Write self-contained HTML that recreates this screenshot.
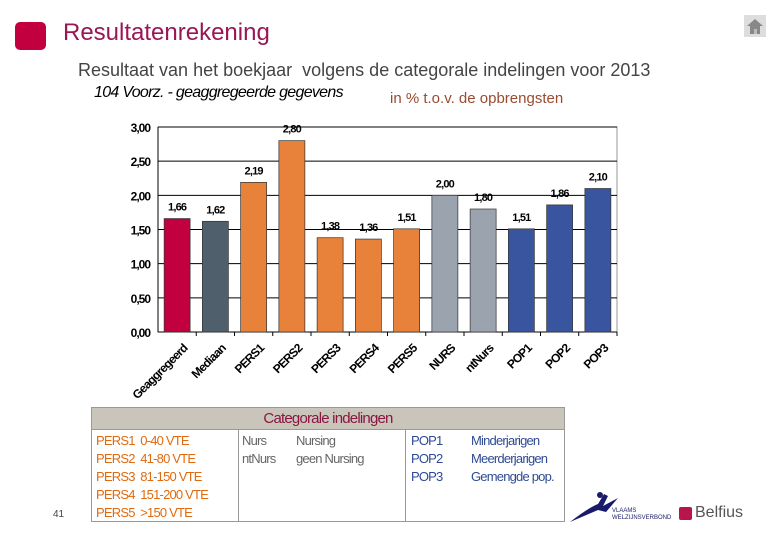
<!DOCTYPE html>
<html><head><meta charset="utf-8"><style>
body{margin:0;background:#fff;}
#root{position:relative;width:780px;height:540px;overflow:hidden;font-family:"Liberation Sans",sans-serif;background:#fff;}
.abs{position:absolute;}
</style></head><body>
<div id="root">
  <div class="abs" style="left:15px;top:22px;width:31px;height:28px;background:#c3003f;border-radius:5px;"></div>
  <div class="abs" style="left:63px;top:19px;font-size:24px;color:#9a1655;">Resultatenrekening</div>
  <div class="abs" style="left:744px;top:15px;width:22px;height:22px;background:#ddd;">
    <svg width="22" height="22"><polygon points="3,11 11,4 19,11" fill="#888"/><rect x="6" y="11" width="10" height="8" fill="#888"/><rect x="10" y="14" width="3" height="5" fill="#bbb"/></svg>
  </div>
  <div class="abs" style="left:78px;top:60px;font-size:18px;color:#444;">Resultaat van het boekjaar&nbsp; volgens de categorale indelingen voor 2013</div>
  <div class="abs" style="left:94px;top:84px;font-size:16px;font-style:italic;color:#000;letter-spacing:-0.7px;">104 Voorz. - geaggregeerde gegevens</div>
  <div class="abs" style="left:390px;top:90px;font-size:15px;color:#9a4a30;">in % t.o.v. de opbrengsten</div>
  <svg id="chart" class="abs" style="left:0;top:0" width="780" height="540"></svg>

  <div class="abs" style="left:91px;top:407px;width:472px;height:113px;border:1px solid #999;font-size:13px;letter-spacing:-0.8px;">
    <div style="height:21px;background:#c9c5bb;border-bottom:1px solid #999;color:#8a1640;font-size:15px;text-align:center;line-height:22px;">Categorale indelingen</div>
    <div class="abs" style="left:146px;top:22px;width:1px;height:91px;background:#999"></div>
    <div class="abs" style="left:313px;top:22px;width:1px;height:91px;background:#999"></div>
    <div class="abs" style="left:4px;top:24px;color:#e06a10;line-height:18px;">
      <div>PERS1&nbsp; 0-40 VTE</div><div>PERS2&nbsp; 41-80 VTE</div><div>PERS3&nbsp; 81-150 VTE</div><div>PERS4&nbsp; 151-200 VTE</div><div>PERS5&nbsp; &gt;150 VTE</div>
    </div>
    <div class="abs" style="left:150px;top:24px;color:#666;line-height:18px;">
      <div>Nurs</div><div>ntNurs</div></div>
    <div class="abs" style="left:204px;top:24px;color:#666;line-height:18px;"><div>Nursing</div><div>geen Nursing</div></div>
    <div class="abs" style="left:319px;top:24px;color:#2e4a94;line-height:18px;">
      <div>POP1</div><div>POP2</div><div>POP3</div></div>
    <div class="abs" style="left:379px;top:24px;color:#2e4a94;line-height:18px;"><div>Minderjarigen</div><div>Meerderjarigen</div><div>Gemengde pop.</div></div>
  </div>
  <div class="abs" style="left:53px;top:509px;font-size:10px;color:#444;">41</div>
  <svg class="abs" style="left:568px;top:490px" width="110" height="35">
    <path d="M2,32 Q20,18 30,14 L36,4 L40,6 L35,16 L50,8 L38,22 L30,20 Z" fill="#1a1a6a"/><circle cx="32" cy="5" r="3" fill="#1a1a6a"/>
    <text x="44" y="22" font-size="6" fill="#1a1a6a" font-family="Liberation Sans">VLAAMS</text>
    <text x="44" y="29" font-size="6" fill="#1a1a6a" font-family="Liberation Sans">WELZIJNSVERBOND</text>
  </svg>
  <div class="abs" style="left:679px;top:507px;width:13px;height:13px;background:#b8154a;border-radius:2px;"></div>
  <div class="abs" style="left:695px;top:504px;font-size:16px;color:#555;">Belfius</div>
</div>
<script>
const categories=["Geaggregeerd","Mediaan","PERS1","PERS2","PERS3","PERS4","PERS5","NURS","ntNurs","POP1","POP2","POP3"];
const values=[1.66,1.62,2.19,2.80,1.38,1.36,1.51,2.00,1.80,1.51,1.86,2.10];
const valueLabels=["1,66","1,62","2,19","2,80","1,38","1,36","1,51","2,00","1,80","1,51","1,86","2,10"];
const colors=["#c3003f","#4f5f6b","#e8813a","#e8813a","#e8813a","#e8813a","#e8813a","#9ba3ae","#9ba3ae","#3a55a0","#3a55a0","#3a55a0"];
const yTicks=[0,0.5,1,1.5,2,2.5,3];
const yTickLabels=["0,00","0,50","1,00","1,50","2,00","2,50","3,00"];
const NS="http://www.w3.org/2000/svg";
const svg=document.getElementById('chart');
const L=158,R=617,T=127,B=332,yMax=3;
const bw=(R-L)/categories.length;
function y(v){return B-(v/yMax)*(B-T);}
function x(i){return L+bw*(i+0.5);}
function mk(tag,attrs){const e=document.createElementNS(NS,tag);for(const k in attrs)e.setAttribute(k,attrs[k]);svg.appendChild(e);return e;}
const bg=mk('rect',{x:L,y:T,width:R-L,height:B-T,fill:'#fff',stroke:'#999'});


yTicks.forEach((t,i)=>{
  const g=mk('line',{x1:L,x2:R,y1:y(t),y2:y(t),stroke:'#000','stroke-width':1});
  
  
  const tx=mk('text',{x:L-8,y:y(t)+5,'text-anchor':'end','font-size':12,'font-weight':'bold','letter-spacing':'-1','font-family':'Liberation Sans'});
  tx.textContent=yTickLabels[i];
  
  
});
mk('line',{x1:L,x2:L,y1:T,y2:B,stroke:'#000'});
categories.forEach((c,i)=>{
  const bx=x(i)-13;
  const r=mk('rect',{x:bx,y:y(values[i]),width:26,height:B-y(values[i]),fill:colors[i],stroke:'#333','stroke-width':0.7});
  
  
  const vl=mk('text',{x:x(i),y:y(values[i])-8,'text-anchor':'middle','font-size':11,'font-weight':'bold','letter-spacing':'-0.8','font-family':'Liberation Sans'});
  vl.textContent=valueLabels[i];
  
  
  mk('line',{x1:L+bw*(i+1),x2:L+bw*(i+1),y1:B,y2:B+4,stroke:'#000'});
  const xl=mk('text',{x:0,y:0,'text-anchor':'end','font-size':12,'font-weight':'bold','letter-spacing':'-0.8','font-family':'Liberation Sans',transform:`translate(${x(i)+11},${B+17}) rotate(-45)`});
  xl.textContent=c;
  
  
});
</script>
</body></html>
